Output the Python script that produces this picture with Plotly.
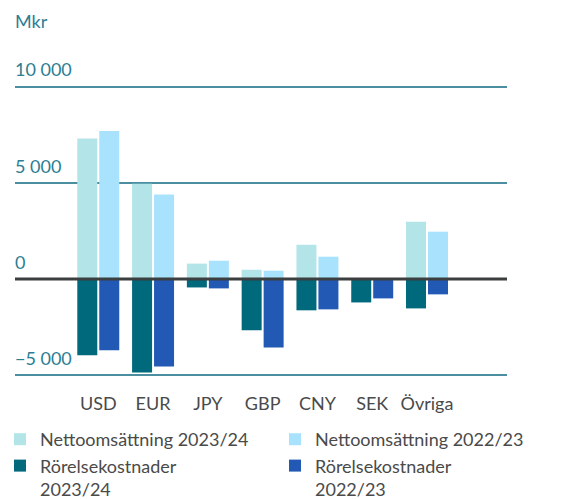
import plotly.graph_objects as go

categories = ["USD", "EUR", "JPY", "GBP", "CNY", "SEK", "Övriga"]
netto_2324 = [7300, 4950, 800, 480, 1780, 0, 2980]
netto_2223 = [7700, 4390, 950, 430, 1160, 0, 2460]
kost_2324 = [-3970, -4860, -440, -2670, -1630, -1220, -1530]
kost_2223 = [-3710, -4550, -490, -3560, -1580, -1010, -800]

names = ["Nettoomsättning 2023/24", "Nettoomsättning 2022/23",
         "Rörelsekostnader<br>2023/24", "Rörelsekostnader<br>2022/23"]
colors = ["#B3E4E8", "#A9E2FC", "#00697B", "#2259B4"]

FONT = "Lato"
TEAL = "#2C7E93"
GREY = "#4A4A4A"

fig = go.Figure()
series = [netto_2324, netto_2223, kost_2324, kost_2223]
offsets = [-0.383, 0.018, -0.383, 0.018]
legends = ["legend", "legend2", "legend", "legend2"]
for name, vals, col, off, lg in zip(names, series, colors, offsets, legends):
    fig.add_trace(go.Bar(x=categories, y=vals, name=name, marker_color=col,
                         marker_line_width=0, width=0.365, offset=off,
                         legend=lg))

fig.add_shape(type="line", xref="paper", x0=0, x1=1, yref="y", y0=0, y1=0,
              line=dict(color="#3B3F3F", width=3), layer="above")

leg_common = dict(orientation="v", xanchor="left", xref="container",
                  yanchor="top", yref="container", valign="top",
                  traceorder="normal", tracegroupgap=0,
                  font=dict(family=FONT, size=18, color=GREY),
                  bgcolor="rgba(0,0,0,0)")

fig.update_layout(
    width=562, height=499,
    barmode="overlay",
    separators=", ",
    plot_bgcolor="white", paper_bgcolor="white",
    margin=dict(l=15, r=55, t=55, b=121, autoexpand=False),
    font=dict(family=FONT, size=18, color=GREY),
    title=dict(text="Mkr", x=15/562, xanchor="left", xref="container",
               y=1-22/499, yanchor="middle", yref="container",
               font=dict(family=FONT, size=18, color=TEAL)),
    xaxis=dict(range=[-1.52, 7.46], showgrid=False, zeroline=False,
               showline=False, ticks="", ticklabelstandoff=13,
               tickfont=dict(family=FONT, size=18, color=GREY)),
    yaxis=dict(range=[-5150, 11649], tickvals=[-5000, 0, 5000, 10000],
               tickformat=",d", showgrid=True, gridcolor="#4A8EA0", gridwidth=2,
               zeroline=False, showline=False, ticks="",
               ticklabelposition="inside top", ticklabelshift=-4,
               ticklabelstandoff=-3,
               tickfont=dict(family=FONT, size=18, color=TEAL)),
    legend=dict(x=0, y=1-421/499, **leg_common),
    legend2=dict(x=275/562, y=1-421/499, **leg_common),
)

fig.write_html("out.html", config={"displayModeBar": False},
               post_script="document.body.style.margin='0';")
